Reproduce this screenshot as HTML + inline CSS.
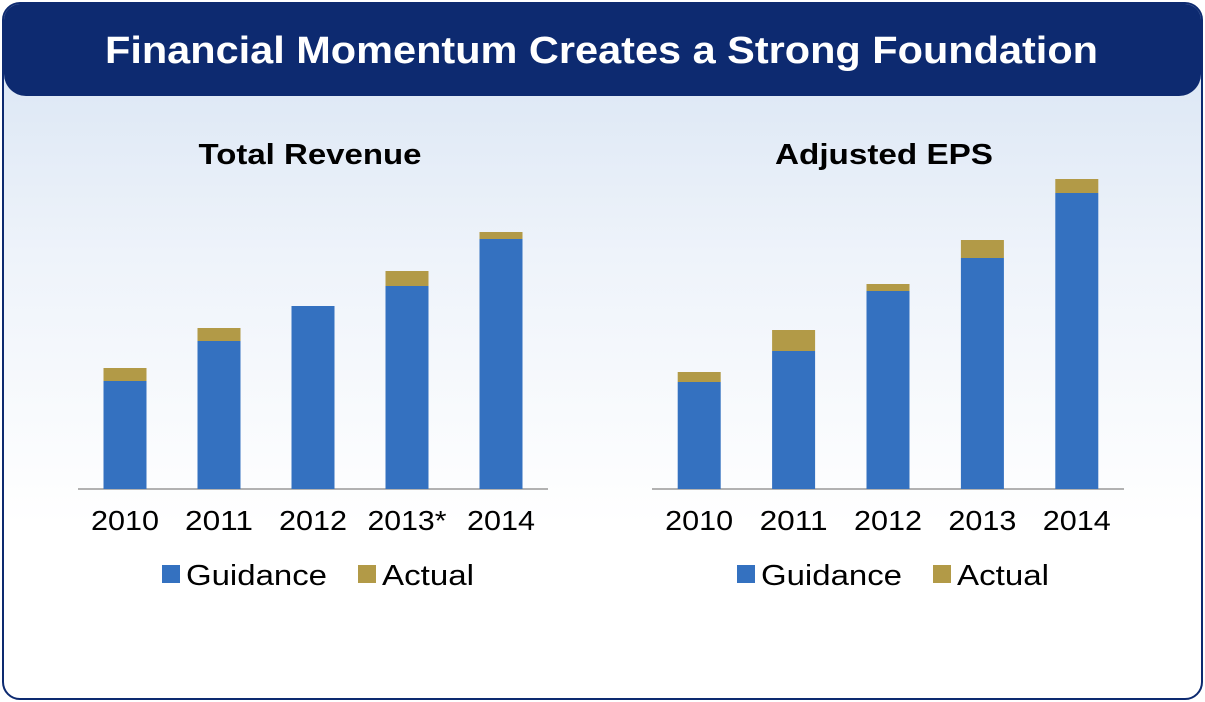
<!DOCTYPE html>
<html><head><meta charset="utf-8"><style>
body{margin:0;width:1205px;height:702px;overflow:hidden;background:#fff;font-family:"Liberation Sans",Arial,sans-serif}
#frame{position:absolute;left:2px;top:2px;width:1197px;height:694px;border:2px solid #0d2a70;border-radius:18px;background:linear-gradient(#d6e3f3 0px,#eef3fa 250px,#ffffff 520px);overflow:hidden}
#hdr{position:absolute;left:0;top:0;width:1197px;height:92px;background:#0d2a70;border-radius:0 0 22px 22px}
svg{position:absolute;left:0;top:0}
</style></head><body>
<div id="frame"><div id="hdr"></div></div>
<svg id="s" width="1205" height="702">
<text x="105" y="63" font-size="38" font-weight="bold" fill="#fff" textLength="993" lengthAdjust="spacingAndGlyphs">Financial Momentum Creates a Strong Foundation</text>
</svg>
<script>
const revYears=["2010","2011","2012","2013*","2014"];
const revGuidance=[108,148,183,203,250];
const revActual=[13,13,0,15,7];
const epsYears=["2010","2011","2012","2013","2014"];
const epsGuidance=[107,138,198,231,296];
const epsActual=[10,21,7,18,14];
const NS="http://www.w3.org/2000/svg";
const svg=document.getElementById('s');
function mk(t,a){const e=document.createElementNS(NS,t);for(const k in a)e.setAttribute(k,a[k]);svg.appendChild(e);return e;}
function chart(id,title,titleW,cats,g,a,x0,x1,cx,lx){
  const base=489;
  const y=v=>base-v;
  const step=(x1-x0)/cats.length, bw=43;
  const t=mk('text',{x:cx-titleW/2,y:164,'font-size':29,'font-weight':'bold',fill:'#000',textLength:titleW,lengthAdjust:'spacingAndGlyphs'});t.textContent=title;
  
  
  const ax=mk('line',{x1:x0,x2:x1,y1:base,y2:base,stroke:'#999','stroke-width':1.5});
  
  
  cats.forEach((c,i)=>{
    const bx=x0+step*i+(step-bw)/2;
    const r=mk('rect',{x:bx,y:y(g[i]),width:bw,height:g[i],fill:'#3471c0'});
    
    
    const r2=mk('rect',{x:bx,y:y(g[i]+a[i]),width:bw,height:a[i],fill:'#b29a47'});
    
    
    const w=c.length>4?79:68;
    const l=mk('text',{x:bx+bw/2-w/2,y:530,'font-size':28,fill:'#000',textLength:w,lengthAdjust:'spacingAndGlyphs'});l.textContent=c;
    
    
  });
  const s1=mk('rect',{x:lx,y:565,width:18,height:18,fill:'#3471c0'});
  
  
  const t1=mk('text',{x:lx+24,y:585,'font-size':29,fill:'#000',textLength:141,lengthAdjust:'spacingAndGlyphs'});t1.textContent='Guidance';
  
  
  const s2=mk('rect',{x:lx+196,y:565,width:18,height:18,fill:'#b29a47'});
  
  
  const t2=mk('text',{x:lx+220,y:585,'font-size':29,fill:'#000',textLength:92,lengthAdjust:'spacingAndGlyphs'});t2.textContent='Actual';
  
  
}
chart('revenue','Total Revenue',223,revYears,revGuidance,revActual,78,548,310,162);
chart('eps','Adjusted EPS',218,epsYears,epsGuidance,epsActual,652,1124,884,737);
</script>
</body></html>
